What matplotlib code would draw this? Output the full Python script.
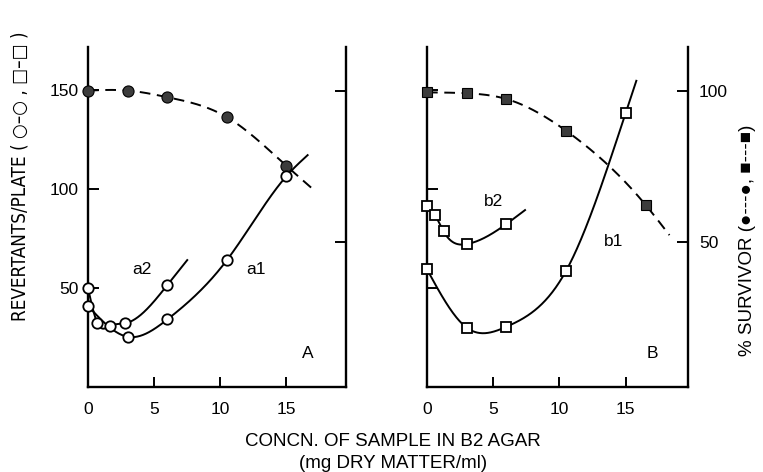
import numpy as np
import matplotlib
matplotlib.use("Agg")
import matplotlib.pyplot as plt

plt.rcParams['font.family'] = ['Liberation Sans', 'DejaVu Sans']

# ---------------- data ----------------
x_ticks = [0, 5, 10, 15]
rev_ticks = [50, 100, 150]
surv_ticks = [50, 100]

# Panel A: survivor (%), filled circles, dashed
a_surv_x = [0, 3, 6, 10.5, 15]
a_surv_y = [100, 100, 97.8, 91.2, 75.1]
a_surv_end = (17.0, 67.4)
# Panel A: revertants, open circles
a1_x = [0, 3, 6, 10.5, 15]
a1_y = [41, 25.4, 34.2, 64.2, 106.7]
a1_end = (16.6, 117.3)
a2_x = [0, 0.7, 1.7, 2.8, 6.0]
a2_y = [50, 32.5, 31, 32.2, 51.6]
a2_end = (7.5, 64.2)

# Panel B: survivor (%), filled squares, dashed
b_surv_x = [0, 3, 6, 10.5, 16.5]
b_surv_y = [99.4, 99.1, 97.2, 86.7, 62.2]
b_surv_end = (18.3, 52.2)
# Panel B: revertants, open squares
b1_x = [0, 3, 6, 10.5, 15]
b1_y = [59.5, 30.0, 30.5, 58.8, 138.7]
b1_end = (15.8, 154.9)
b2_x = [0, 0.6, 1.25, 3, 6]
b2_y = [91.7, 87.0, 78.7, 72.3, 82.5]
b2_end = (7.4, 89.5)

REV_LIM = (0, 172)
SURV_LIM = (2, 114.4)


def smooth(xs, ys, end, n=300):
    """natural cubic spline through the points (plus the curve end)."""
    x = np.asarray(list(xs) + [end[0]], float)
    y = np.asarray(list(ys) + [end[1]], float)
    m = len(x)
    h = np.diff(x)
    A = np.zeros((m, m))
    r = np.zeros(m)
    A[0, 0] = A[-1, -1] = 1
    for i in range(1, m - 1):
        A[i, i - 1] = h[i - 1]
        A[i, i] = 2 * (h[i - 1] + h[i])
        A[i, i + 1] = h[i]
        r[i] = 6 * ((y[i + 1] - y[i]) / h[i] - (y[i] - y[i - 1]) / h[i - 1])
    M = np.linalg.solve(A, r)
    xs_ = np.linspace(x[0], x[-1], n)
    idx = np.clip(np.searchsorted(x, xs_) - 1, 0, m - 2)
    x0, x1 = x[idx], x[idx + 1]
    hh = x1 - x0
    t0, t1 = x1 - xs_, xs_ - x0
    ys_ = (M[idx] * t0 ** 3 / (6 * hh) + M[idx + 1] * t1 ** 3 / (6 * hh)
           + (y[idx] / hh - M[idx] * hh / 6) * t0
           + (y[idx + 1] / hh - M[idx + 1] * hh / 6) * t1)
    return xs_, ys_


def rev_to_surv(v):
    """map revertant values onto the survivor (twin) axis scale."""
    v = np.asarray(v, float)
    return SURV_LIM[0] + (v - REV_LIM[0]) * (SURV_LIM[1] - SURV_LIM[0]) / (REV_LIM[1] - REV_LIM[0])


W, H = 763, 472
fig = plt.figure(figsize=(W / 100, H / 100), dpi=100)
fig.patch.set_facecolor('white')

LW = 1.4
SPW = 1.7
FS_TICK = 12.5
FS_LAB = 13.5
DARK = '#3c3c3c'


def setup(ax, tw, xmax, left_labels, right_labels):
    ax.set_xlim(0, xmax)
    ax.set_ylim(*REV_LIM)
    tw.set_ylim(*SURV_LIM)
    for s in ['top', 'right']:
        ax.spines[s].set_visible(False)
    for s in ['top', 'left', 'bottom']:
        tw.spines[s].set_visible(False)
    for sp in [ax.spines['left'], ax.spines['bottom'], tw.spines['right']]:
        sp.set_linewidth(SPW)
    ax.set_xticks(x_ticks)
    ax.set_xticklabels([str(v) for v in x_ticks])
    ax.set_yticks(rev_ticks)
    ax.set_yticklabels([str(v) for v in rev_ticks] if left_labels else [])
    tw.set_yticks(surv_ticks)
    tw.set_yticklabels([str(v) for v in surv_ticks] if right_labels else [])
    ax.tick_params(axis='both', direction='in', length=8, width=1.4,
                   labelsize=FS_TICK, pad=7)
    ax.tick_params(axis='x', length=7, pad=11)
    tw.tick_params(axis='y', direction='in', length=8, width=1.4,
                   labelsize=FS_TICK, pad=8)
    ax.patch.set_alpha(0)


axA = fig.add_axes([88 / W, 85 / H, 258 / W, 340 / H])
twA = axA.twinx()
axB = fig.add_axes([427 / W, 85 / H, 261 / W, 340 / H])
twB = axB.twinx()
setup(axA, twA, 19.5, True, False)
setup(axB, twB, 19.7, False, True)

dash = (5.5, 3.4)
open_kw = dict(linestyle='none', markerfacecolor='white', markeredgecolor='black',
               markeredgewidth=1.3, zorder=5, clip_on=False)
fill_kw = dict(linestyle='none', markerfacecolor=DARK, markeredgecolor='black',
               markeredgewidth=0.8, zorder=5, clip_on=False)

# Panel A
sx, sy = smooth(a_surv_x, a_surv_y, a_surv_end)
twA.plot(sx, sy, color='black', lw=LW, dashes=dash)
twA.plot(a_surv_x, a_surv_y, marker='o', markersize=8, **fill_kw)
for xs, ys, end in [(a1_x, a1_y, a1_end), (a2_x, a2_y, a2_end)]:
    cx, cy = smooth(xs, ys, end)
    twA.plot(cx, rev_to_surv(cy), color='black', lw=LW)
    twA.plot(xs, rev_to_surv(ys), marker='o', markersize=7.5, **open_kw)

# Panel B
sx, sy = smooth(b_surv_x, b_surv_y, b_surv_end)
twB.plot(sx, sy, color='black', lw=LW, dashes=dash)
twB.plot(b_surv_x, b_surv_y, marker='s', markersize=7.5, **fill_kw)
for xs, ys, end in [(b1_x, b1_y, b1_end), (b2_x, b2_y, b2_end)]:
    cx, cy = smooth(xs, ys, end)
    twB.plot(cx, rev_to_surv(cy), color='black', lw=LW)
    twB.plot(xs, rev_to_surv(ys), marker='s', markersize=7.5, **open_kw)

# curve labels
axA.text(12.7, 59.5, 'a1', fontsize=FS_TICK, ha='center', va='center')
axA.text(4.1, 59.5, 'a2', fontsize=FS_TICK, ha='center', va='center')
axA.text(16.6, 17.2, 'A', fontsize=FS_TICK, ha='center', va='center')
axB.text(14.1, 73.5, 'b1', fontsize=FS_TICK, ha='center', va='center')
axB.text(5.0, 93.7, 'b2', fontsize=FS_TICK, ha='center', va='center')
axB.text(17.0, 17.0, 'B', fontsize=FS_TICK, ha='center', va='center')

# axis titles
fig.text(393 / W, 1 - 441 / H, 'CONCN. OF SAMPLE IN B2 AGAR', ha='center', va='center',
         fontsize=FS_LAB)
fig.text(393 / W, 1 - 463 / H, '(mg DRY MATTER/ml)', ha='center', va='center',
         fontsize=FS_LAB)
fig.text(20 / W, 1 - 176 / H, 'REVERTANTS/PLATE ( ○–○ , □–□ )', rotation=90,
         ha='center', va='center', fontsize=FS_LAB,
         family=['DejaVu Sans'], fontstretch='condensed')
fig.text(748 / W, 1 - 240 / H, '% SURVIVOR (●---●, ■---■)', rotation=90,
         ha='center', va='center', fontsize=FS_LAB,
         family=['Liberation Sans', 'DejaVu Sans'])

fig.savefig('out.png', dpi=100, facecolor='white')
